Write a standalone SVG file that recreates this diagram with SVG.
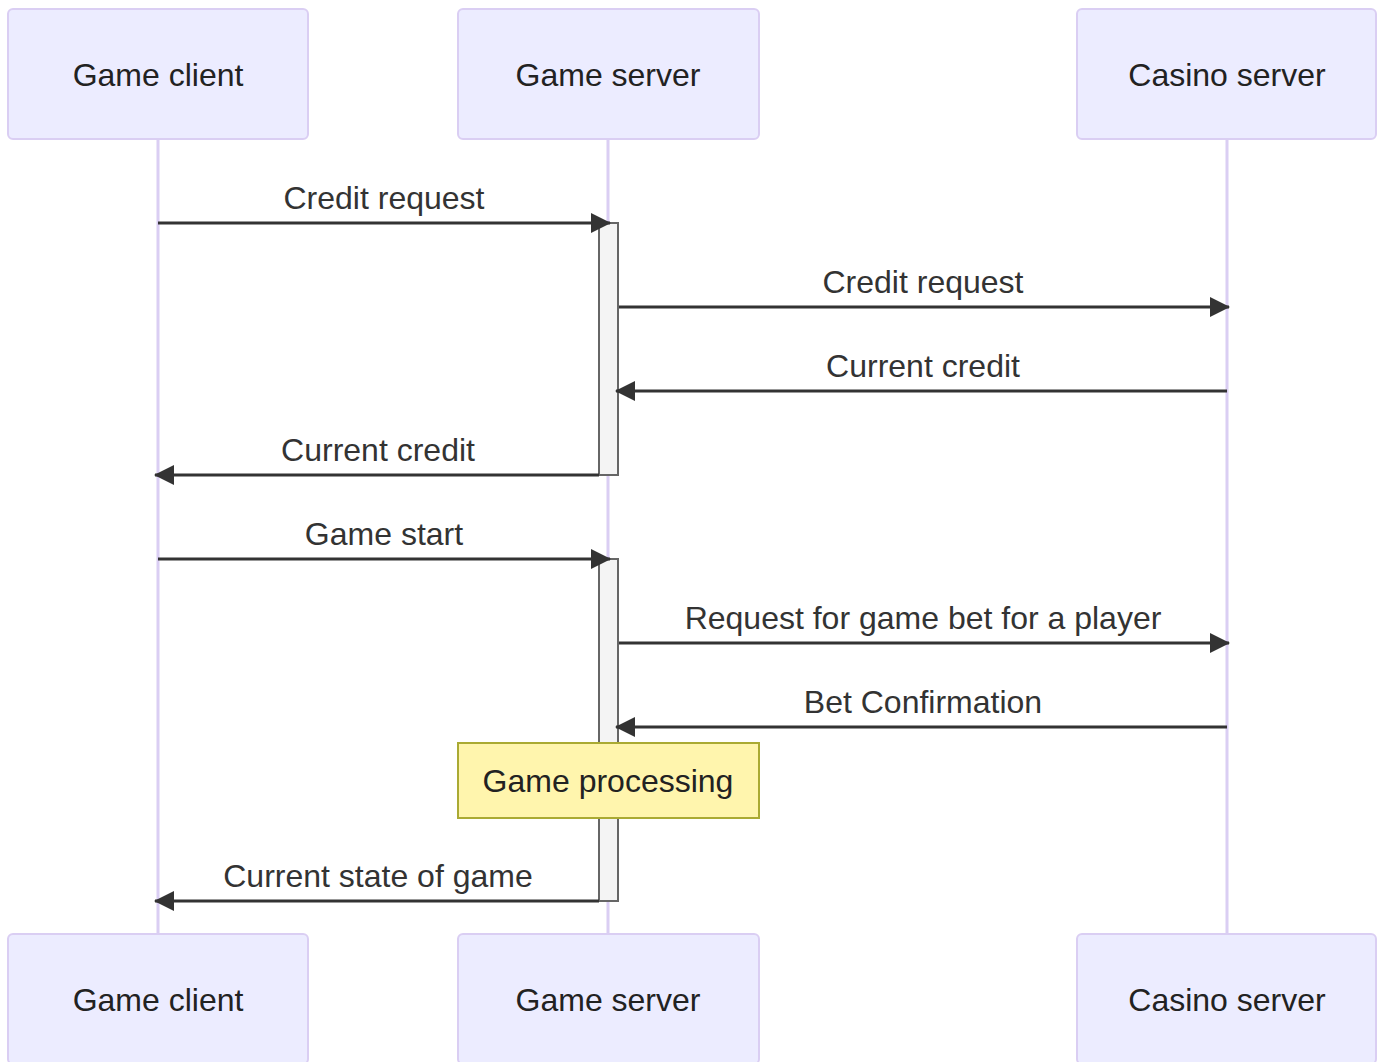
<svg xmlns="http://www.w3.org/2000/svg" width="1377" height="1062" viewBox="0 0 1377 1062">
<defs>
<style>
.actor{fill:#ECECFF;stroke:#DACEF3;stroke-width:2}
.atext{font-family:"Liberation Sans",Arial,sans-serif;font-size:32px;fill:#222;text-anchor:middle;dominant-baseline:central}
.life{stroke:#DACEF3;stroke-width:3}
.msg{stroke:#333;stroke-width:3;fill:none}
.mtext{font-family:"Liberation Sans",Arial,sans-serif;font-size:32px;fill:#333;text-anchor:middle}
.act{fill:#F4F4F4;stroke:#666;stroke-width:2}
.note{fill:#FFF5AD;stroke:#AAAA33;stroke-width:2}
</style>
<marker id="ah" markerWidth="20" markerHeight="20" viewBox="0 0 20 20" refX="19" refY="10" orient="auto-start-reverse" markerUnits="userSpaceOnUse">
<path d="M0,0 L20,10 L0,20 Z" fill="#333"/>
</marker>
</defs>
<g id="lifelines">
<line class="life" x1="158" y1="139" x2="158" y2="934"/>
<line class="life" x1="608" y1="139" x2="608" y2="934"/>
<line class="life" x1="1227" y1="139" x2="1227" y2="934"/>
</g>
<g id="actor-client-top"><rect class="actor" x="8" y="9" width="300" height="130" rx="5"/><text class="atext" x="158" y="75">Game client</text></g>
<g id="actor-server-top"><rect class="actor" x="458" y="9" width="301" height="130" rx="5"/><text class="atext" x="608" y="75">Game server</text></g>
<g id="actor-casino-top"><rect class="actor" x="1077" y="9" width="299" height="130" rx="5"/><text class="atext" x="1227" y="75">Casino server</text></g>
<g id="actor-client-bottom"><rect class="actor" x="8" y="934" width="300" height="130" rx="5"/><text class="atext" x="158" y="1000">Game client</text></g>
<g id="actor-server-bottom"><rect class="actor" x="458" y="934" width="301" height="130" rx="5"/><text class="atext" x="608" y="1000">Game server</text></g>
<g id="actor-casino-bottom"><rect class="actor" x="1077" y="934" width="299" height="130" rx="5"/><text class="atext" x="1227" y="1000">Casino server</text></g>
<g id="activation-1"><rect class="act" x="599" y="223" width="19" height="252"/></g>
<g id="activation-2"><rect class="act" x="599" y="559" width="19" height="342"/></g>
<g id="connectors">
<line class="msg" x1="158" y1="223" x2="610" y2="223" marker-end="url(#ah)"/>
<text class="mtext" x="384" y="209">Credit request</text>
<line class="msg" x1="619" y1="307" x2="1229" y2="307" marker-end="url(#ah)"/>
<text class="mtext" x="923" y="293">Credit request</text>
<line class="msg" x1="1227" y1="391" x2="616" y2="391" marker-end="url(#ah)"/>
<text class="mtext" x="923" y="377">Current credit</text>
<line class="msg" x1="599" y1="475" x2="155" y2="475" marker-end="url(#ah)"/>
<text class="mtext" x="378" y="461">Current credit</text>
<line class="msg" x1="158" y1="559" x2="610" y2="559" marker-end="url(#ah)"/>
<text class="mtext" x="384" y="545">Game start</text>
<line class="msg" x1="619" y1="643" x2="1229" y2="643" marker-end="url(#ah)"/>
<text class="mtext" x="923" y="629">Request for game bet for a player</text>
<line class="msg" x1="1227" y1="727" x2="616" y2="727" marker-end="url(#ah)"/>
<text class="mtext" x="923" y="713">Bet Confirmation</text>
<line class="msg" x1="599" y1="901" x2="155" y2="901" marker-end="url(#ah)"/>
<text class="mtext" x="378" y="887">Current state of game</text>
</g>
<g id="note-game-processing"><rect class="note" x="458" y="743" width="301" height="75"/><text class="atext" x="608" y="781">Game processing</text></g>
</svg>
